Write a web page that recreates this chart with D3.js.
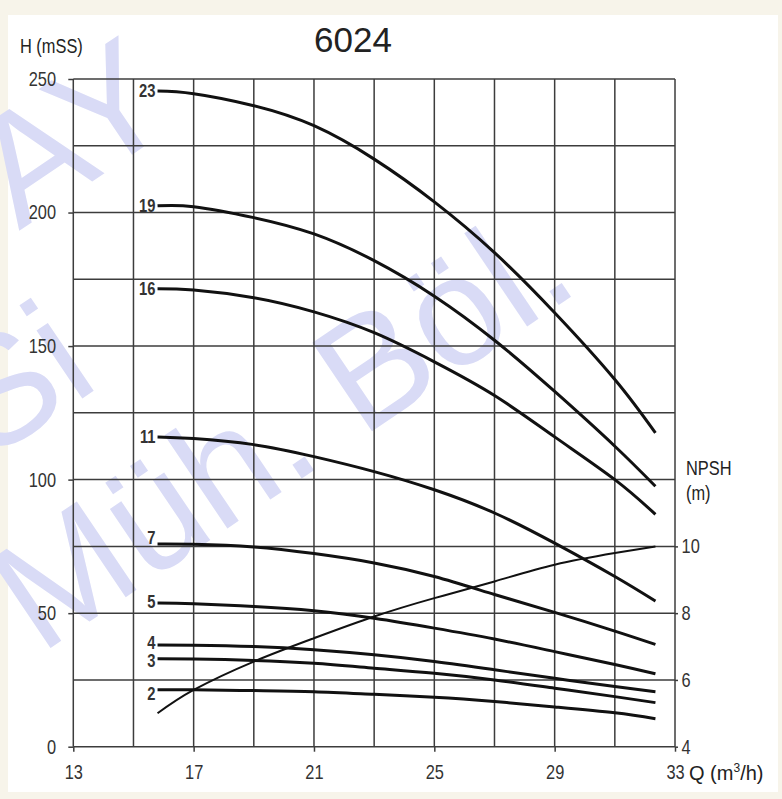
<!DOCTYPE html>
<html>
<head>
<meta charset="utf-8">
<title>6024</title>
<style>
body { margin: 0; background: #f7f4ea; }
.grid line { stroke: #3c3c3c; stroke-width: 1.5px; }
.axis line { stroke: #3c3c3c; stroke-width: 1.5px; }
.axis text { font-family: "Liberation Sans", Arial, sans-serif; font-size: 20px; fill: #333; }
.pump { fill: none; stroke: #111; stroke-width: 3px; }
.npsh { fill: none; stroke: #111; stroke-width: 2px; }
.lbl { font-family: "Liberation Sans", Arial, sans-serif; font-size: 18px; font-weight: bold; fill: #333; }
.cap { font-family: "Liberation Sans", Arial, sans-serif; font-size: 20px; fill: #222; }
.wm { font-family: "Liberation Sans", Arial, sans-serif; font-size: 155px; fill: #d9dbf6; }
</style>
</head>
<body>
<script src="https://cdn.jsdelivr.net/npm/d3@7"></script>
<script>

// flow points (m3/h)
var flow = [15.8, 17, 19, 21, 23, 25, 27, 29, 31, 32.35];

// head (mSS) for each stage count
var head23 = [245.5, 244.5, 240, 232.5, 220, 204, 185, 162.5, 137.5, 117.5];
var head19 = [202.5, 202.2, 198.1, 192, 182, 168.7, 152.2, 133, 112.5, 97.5];
var head16 = [171.5, 171, 168.1, 162.8, 155, 144.1, 131.5, 116, 100, 87];
var head11 = [116, 115.4, 113.1, 108.6, 103, 96.2, 87.5, 76.2, 63.7, 54.5];
var head7 = [75.9, 75.8, 74.8, 72.3, 68.8, 63.7, 57, 50.3, 43.3, 38.3];
var head5 = [53.8, 53.5, 52.5, 50.9, 48.1, 44.4, 40.3, 35.6, 30.8, 27.3];
var head4 = [38.1, 38, 37.5, 36.3, 34.4, 31.9, 28.8, 25.6, 22.5, 20.6];
var head3 = [32.9, 32.8, 32.3, 31.2, 29.4, 27.5, 25, 21.9, 18.75, 16.5];
var head2 = [21.3, 21.3, 21, 20.6, 19.6, 18.5, 16.9, 14.9, 12.7, 10.5];

// NPSH (m) on right axis
var npsh = [5.0, 5.7, 6.55, 7.25, 7.9, 8.45, 8.95, 9.45, 9.8, 10.0];

var stageNames = ["23", "19", "16", "11", "7", "5", "4", "3", "2"];
var stageHeads = [head23, head19, head16, head11, head7, head5, head4, head3, head2];

var xTicks = [13, 17, 21, 25, 29, 33];
var hTicks = [0, 50, 100, 150, 200, 250];
var npshTicks = [4, 6, 8, 10];

var width = 782, height = 799;
var narrowK = 0.82; // squeeze to mimic a narrow typeface

var svg = d3.select("body").append("svg")
    .attr("width", width)
    .attr("height", height);

// paper
svg.append("rect").attr("width", width).attr("height", height).attr("fill", "#f7f4ea");
svg.append("rect").attr("x", 8).attr("y", 15).attr("width", 770).attr("height", 777).attr("fill", "#fff");

var x = d3.scaleLinear().domain([13, 33]).range([73.3, 675]);
var y = d3.scaleLinear().domain([0, 250]).range([746.7, 79]);
var yN = d3.scaleLinear().domain([4, 10]).range([y(0), y(75)]);

// narrow text helper: place at (px, py) then squeeze horizontally
function narrow(t, px, py) {
  return t.attr("x", px / narrowK).attr("y", py)
      .attr("transform", "scale(" + narrowK + ",1)");
}

// watermark
var wm = svg.append("g");
wm.append("text").attr("class", "wm")
    .attr("transform", "translate(19,231) rotate(-34)").text("AY");
wm.append("text").attr("class", "wm")
    .attr("transform", "translate(-12,462) rotate(-34)").text("Si");
wm.append("text").attr("class", "wm")
    .attr("transform", "translate(40,655) rotate(-34)").text("Müh. Böl.");

// grid
var grid = svg.append("g").attr("class", "grid");
grid.selectAll(".v").data(d3.range(13, 33.1, 2)).enter().append("line")
    .attr("x1", function(d) { return x(d); })
    .attr("x2", function(d) { return x(d); })
    .attr("y1", y(250)).attr("y2", y(0));
grid.selectAll(".h").data(d3.range(0, 251, 25)).enter().append("line")
    .attr("x1", x(13)).attr("x2", x(33))
    .attr("y1", function(d) { return y(d); })
    .attr("y2", function(d) { return y(d); });

// axes
svg.append("g").attr("class", "axis")
    .attr("transform", "translate(" + x(13) + ",0)")
    .call(d3.axisLeft(y).tickValues(hTicks).tickSize(5).tickPadding(16).tickSizeOuter(0));
svg.append("g").attr("class", "axis")
    .attr("transform", "translate(0," + y(0) + ")")
    .call(d3.axisBottom(x).tickValues(xTicks).tickSize(5).tickPadding(13).tickSizeOuter(0));
svg.append("g").attr("class", "axis")
    .attr("transform", "translate(" + x(33) + ",0)")
    .call(d3.axisRight(yN).tickValues(npshTicks).tickFormat(d3.format("d"))
      .tickSize(3).tickPadding(5).tickSizeOuter(0));
svg.selectAll(".axis .domain").remove();
svg.selectAll(".axis text").attr("transform", "scale(" + narrowK + ",1)");

// curves
var line = d3.line().curve(d3.curveNatural);
var labelShift = [0, 0, 0, 0, -6, -1, -2, 2, 4];

stageHeads.forEach(function(h, i) {
  var pts = flow.map(function(q, j) { return [x(q), y(h[j])]; });
  svg.append("path").attr("class", "pump").attr("d", line(pts));
  narrow(svg.append("text").attr("class", "lbl"), x(flow[0]) - 2, y(h[0]) + labelShift[i])
      .attr("dy", "0.35em")
      .attr("text-anchor", "end")
      .text(stageNames[i]);
});

var npshPts = flow.map(function(q, j) { return [x(q), yN(npsh[j])]; });
svg.append("path").attr("class", "npsh").attr("d", line(npshPts));

// titles
svg.append("text")
    .attr("x", 353).attr("y", 52)
    .attr("text-anchor", "middle")
    .style("font-family", "'Liberation Sans', Arial, sans-serif")
    .style("font-size", "35px")
    .style("fill", "#222")
    .text("6024");

narrow(svg.append("text").attr("class", "cap"), 20, 53).text("H (mSS)");
narrow(svg.append("text").attr("class", "cap"), 686, 475).text("NPSH");
narrow(svg.append("text").attr("class", "cap"), 686, 500).text("(m)");

var q = svg.append("text").attr("class", "cap")
    .attr("x", 689).attr("y", 780)
    .style("font-size", "20px");
q.append("tspan").text("Q (m");
q.append("tspan").attr("dy", -8).style("font-size", "12px").text("3");
q.append("tspan").attr("dy", 8).text("/h)");

</script>
</body>
</html>
